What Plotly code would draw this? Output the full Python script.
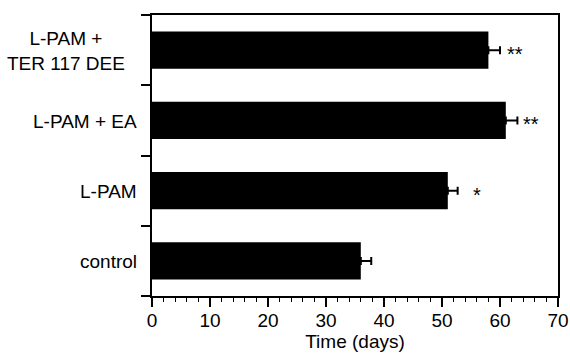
import plotly.graph_objects as go

categories = ["control", "L-PAM", "L-PAM + EA", "L-PAM + TER 117 DEE"]
label_text = ["control", "L-PAM", "L-PAM + EA", "L-PAM +<br>TER 117 DEE"]
values = [36, 51, 61, 58]
errors = [1.8, 1.7, 2.0, 2.0]
signif = ["", "*", "**", "**"]
signif_x = [0, 56.0, 65.4, 62.6]
x_ticks = [0, 10, 20, 30, 40, 50, 60, 70]

FONT = "Liberation Sans, Arial, Helvetica, sans-serif"
FS = 19

fig = go.Figure()
fig.add_trace(go.Bar(
    x=values, y=categories, orientation="h",
    marker=dict(color="black", line=dict(width=0)),
    width=0.53,
    error_x=dict(type="data", symmetric=False, array=errors,
                 arrayminus=[0] * len(values),
                 color="black", thickness=2, width=4),
))

annotations = []
for cat, lab in zip(categories, label_text):
    multi = "<br>" in lab
    annotations.append(dict(
        x=0, xref="paper", y=cat, yref="y", text=lab, showarrow=False,
        xanchor="center" if multi else "right", align="center",
        xshift=-86 if multi else -13, yshift=-1,
        font=dict(family=FONT, size=FS, color="black"),
    ))
for cat, s, sx in zip(categories, signif, signif_x):
    if s:
        annotations.append(dict(
            x=sx, y=cat, xref="x", yref="y", text=s, showarrow=False,
            xanchor="center", yshift=-4,
            font=dict(family=FONT, size=20, color="black"),
        ))

fig.update_layout(
    width=570, height=353,
    margin=dict(l=152, r=12, t=15, b=57, autoexpand=False),
    paper_bgcolor="white", plot_bgcolor="white",
    showlegend=False,
    font=dict(family=FONT, size=FS, color="black"),
    annotations=annotations,
    xaxis=dict(
        range=[0, 70], tickvals=x_ticks, ticks="outside", ticklen=9,
        tickwidth=1.5, tickcolor="black", showgrid=False, zeroline=False,
        showline=True, linecolor="black", linewidth=1.5, mirror=True,
        automargin=False, ticklabelstandoff=-3,
        minor=dict(dtick=2, tick0=0, ticks="outside", ticklen=4,
                   tickwidth=1, tickcolor="black", showgrid=False),
        tickfont=dict(family=FONT, size=FS, color="black"),
        title=dict(text="Time (days)", standoff=2,
                   font=dict(family=FONT, size=FS, color="black")),
    ),
    yaxis=dict(
        categoryorder="array", categoryarray=categories,
        range=[-0.5, 3.5], tickson="boundaries", ticks="outside", ticklen=9,
        tickwidth=1.5, tickcolor="black", showticklabels=False,
        showgrid=False, zeroline=False, automargin=False,
        showline=True, linecolor="black", linewidth=1.5, mirror=True,
    ),
)

fig.write_html("out.html", config={"displayModeBar": False},
               post_script="document.body.style.margin='0';")
